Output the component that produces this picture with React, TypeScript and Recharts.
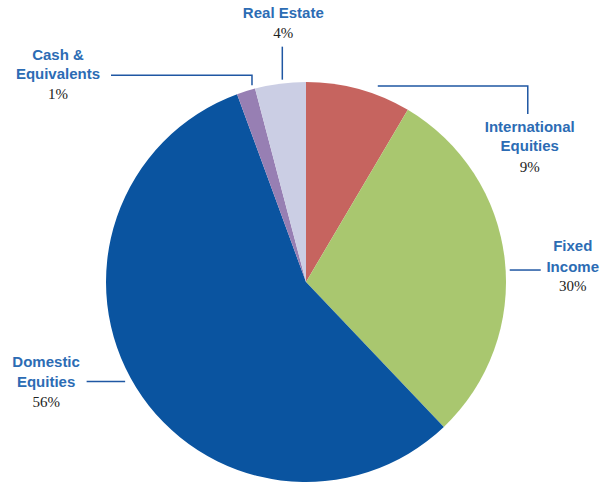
import React from "react";
import { PieChart, Pie, Cell } from "recharts";

// ---- data ----
const categories = ["International Equities", "Fixed Income", "Domestic Equities", "Cash & Equivalents", "Real Estate"];
const values = [8.5, 29.4, 56.5, 1.5, 4.1];
const percentLabels = ["9%", "30%", "56%", "1%", "4%"];
const titleLines = [
  ["International", "Equities"],
  ["Fixed", "Income"],
  ["Domestic", "Equities"],
  ["Cash &", "Equivalents"],
  ["Real Estate"],
];
const colors = ["#C6645F", "#A9C76F", "#0A54A0", "#977FB3", "#CBCEE4"];

// ---- label layout (offsets from the slice's outer edge point) ----
type LabelLayout = {
  line: [number, number][];
  textDx: number;
  titleDy: number[];
  pctDy: number;
};
const labelLayouts: LabelLayout[] = [
  { line: [[19, -3], [169, -3], [169, 25]], textDx: 171, titleDy: [43, 62], pctDy: 82.5 },
  { line: [[5, 10.6], [36, 10.6]], textDx: 68, titleDy: [-8.7, 12.3], pctDy: 31.3 },
  { line: [[-11, -6], [-49.5, -6]], textDx: -90, titleDy: [-20.4, -0.4], pctDy: 19 },
  { line: [[6, -6], [6, -16], [-135, -16]], textDx: -188, titleDy: [-31, -12], pctDy: 8 },
  { line: [[2, -4], [2, -37]], textDx: 3, titleDy: [-66], pctDy: -46 },
];

const data = categories.map((name, i) => ({ name, value: values[i] }));

const TITLE_COLOR = "#2C6CB4";
const LINE_COLOR = "#1F57A3";

const renderLabel = (props: any) => {
  const { cx, cy, midAngle, outerRadius, index } = props;
  const rad = (Math.PI / 180) * midAngle;
  const ex = cx + outerRadius * Math.cos(-rad);
  const ey = cy + outerRadius * Math.sin(-rad);
  const lay = labelLayouts[index];
  const pts = lay.line.map(([dx, dy]) => `${ex + dx},${ey + dy}`).join(" ");
  const tx = ex + lay.textDx;
  return (
    <g key={`lbl-${index}`}>
      <polyline points={pts} fill="none" stroke={LINE_COLOR} strokeWidth={1.5} />
      {titleLines[index].map((t, j) => (
        <text
          key={j}
          x={tx}
          y={ey + lay.titleDy[j]}
          textAnchor="middle"
          fontFamily="'Liberation Sans', Arial, sans-serif"
          fontWeight="bold"
          fontSize={15}
          fill={TITLE_COLOR}
        >
          {t}
        </text>
      ))}
      <text
        x={tx}
        y={ey + lay.pctDy}
        textAnchor="middle"
        fontFamily="'Liberation Serif', 'Times New Roman', serif"
        fontSize={15}
        fill="#222"
      >
        {percentLabels[index]}
      </text>
    </g>
  );
};

export default function App() {
  return (
    <div style={{ position: "absolute", left: 0, top: 0, width: 611, height: 483, background: "#fff" }}>
      <PieChart width={611} height={483} margin={{ top: 0, right: 0, bottom: 0, left: 0 }}>
        <Pie
          data={data}
          dataKey="value"
          nameKey="name"
          cx={306}
          cy={282}
          outerRadius={200}
          startAngle={90}
          endAngle={-270}
          stroke="none"
          label={renderLabel}
          labelLine={false}
          isAnimationActive={false}
        >
          {data.map((d, i) => (
            <Cell key={d.name} fill={colors[i]} />
          ))}
        </Pie>
      </PieChart>
    </div>
  );
}
